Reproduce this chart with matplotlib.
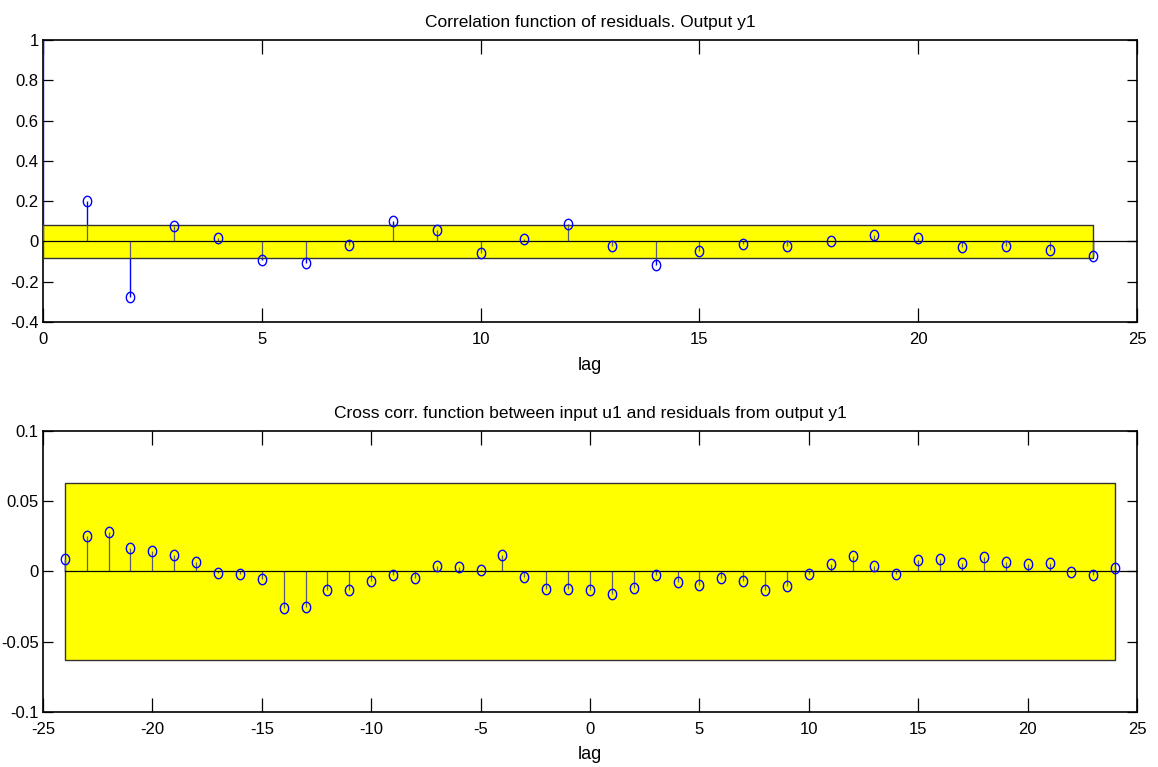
import matplotlib
matplotlib.use("Agg")
import matplotlib.pyplot as plt
from matplotlib.ticker import FuncFormatter
import numpy as np

plt.rcParams["font.family"] = ["Liberation Sans Narrow", "Liberation Sans", "DejaVu Sans"]
plt.rcParams["axes.unicode_minus"] = False

# --- data ---
auto_lags = list(range(0, 25))
auto_vals = [1.0, 0.199, -0.273, 0.078, 0.017, -0.091, -0.106, -0.016, 0.100, 0.058,
             -0.056, 0.010, 0.085, -0.023, -0.119, -0.049, -0.011, -0.024, 0.004,
             0.032, 0.018, -0.029, -0.024, -0.043, -0.071]
auto_conf = 0.082

cross_lags = list(range(-24, 25))
cross_vals = [0.009, 0.0255, 0.028, 0.0167, 0.0148, 0.012, 0.007, -0.001, -0.0015,
              -0.0056, -0.026, -0.025, -0.013, -0.013, -0.0065, -0.0027, -0.0044,
              0.0042, 0.0032, 0.001, 0.012, -0.0037, -0.0122, -0.0122, -0.013,
              -0.016, -0.012, -0.0023, -0.0072, -0.0094, -0.0044, -0.0065, -0.013,
              -0.0103, -0.0015, 0.0053, 0.011, 0.0042, -0.0015, 0.008, 0.009, 0.006,
              0.010, 0.007, 0.005, 0.006, -0.0006, -0.0025, 0.0023]
cross_conf = 0.063

titles = ["Correlation function of residuals. Output y1",
          "Cross corr. function between input u1 and residuals from output y1"]

BLUE = "#0000FF"
STEM_IN = "#5a5a78"
YELLOW = "#FFFF00"

# slightly tall ellipse, like the stretched MATLAB circles
t = np.linspace(0, 2 * np.pi, 40)
ELLIPSE = np.column_stack([0.8 * np.cos(t), np.sin(t)])

fig = plt.figure(figsize=(11.58, 7.67), dpi=100)
ax1 = fig.add_axes([0.0371, 0.580, 0.9448, 0.368])
ax2 = fig.add_axes([0.0371, 0.0717, 0.9448, 0.3665])


def draw(ax, lags, vals, conf, xlim, ylim, xticks, yticks, title, skip=0):
    lags = np.array(lags)
    vals = np.array(vals)
    # stems (blue), band on top, then the part inside band in grey
    ax.vlines(lags, 0, vals, color=BLUE, lw=1.0, zorder=2)
    ax.fill_between([lags.min(), lags.max()], -conf, conf, facecolor=YELLOW,
                    edgecolor="#333333", lw=1.0, zorder=3)
    inner = np.clip(vals, -conf, conf)
    ax.vlines(lags, 0, inner, color=STEM_IN, lw=0.9, zorder=4)
    ax.plot([lags.min(), xlim[1]], [0, 0], color="black", lw=0.9, zorder=4)
    ax.plot(lags[skip:], vals[skip:], ls="none", marker=ELLIPSE, mfc="none",
            mec=BLUE, ms=7.5, mew=1.0, zorder=5)

    ax.set_xlim(*xlim)
    ax.set_ylim(*ylim)
    ax.set_xticks(xticks)
    ax.set_yticks(yticks)
    ax.yaxis.set_major_formatter(FuncFormatter(lambda v, p: "%g" % round(v, 4)))
    ax.xaxis.set_major_formatter(FuncFormatter(lambda v, p: "%g" % v))
    ax.tick_params(axis="x", direction="in", length=10, width=0.9, top=True,
                   labelsize=12, pad=7)
    ax.tick_params(axis="y", direction="in", length=7, width=0.9, right=True,
                   labelsize=12, pad=3)
    for s in ax.spines.values():
        s.set_linewidth(1.2)
        s.set_zorder(1.5)
    ax.set_xlabel("lag", fontsize=13, labelpad=7)
    ax.set_title(title, fontsize=12.5, pad=9)


draw(ax1, auto_lags, auto_vals, auto_conf, (0, 25), (-0.4, 1.0),
     range(0, 26, 5), np.arange(-0.4, 1.01, 0.2), titles[0], skip=1)
draw(ax2, cross_lags, cross_vals, cross_conf, (-25, 25), (-0.1, 0.1),
     range(-25, 26, 5), [-0.1, -0.05, 0, 0.05, 0.1], titles[1])

fig.savefig("out.png", dpi=100, facecolor="white")
